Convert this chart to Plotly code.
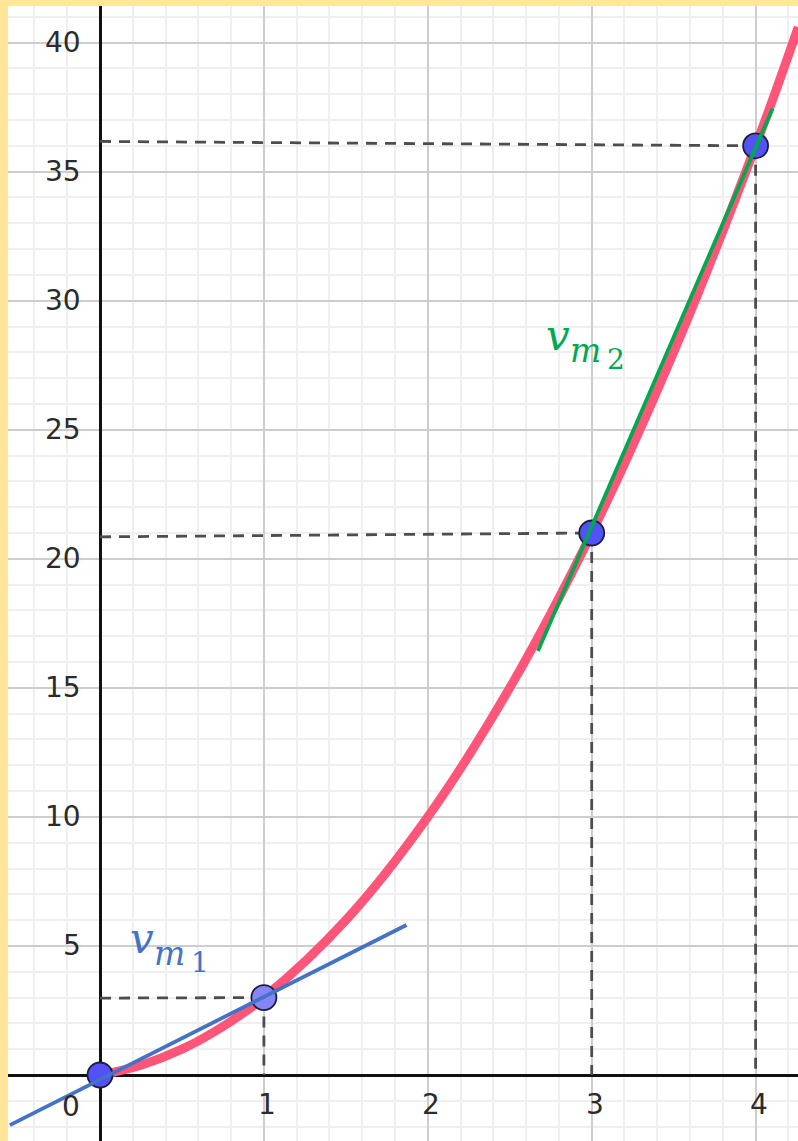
import plotly.graph_objects as go

# ---- data ----
curve_x = [0, 0.25, 0.5, 0.75, 1, 1.5, 2, 2.5, 3, 3.5, 4, 4.26]
curve_y = [0, 0.38, 1.0, 1.88, 3, 6, 10, 15, 21, 28, 36, 40.6]

pts_x = [0, 1, 3, 4]
pts_y = [0, 3, 21, 36]
pts_fill = ["#5252f7", "#8585f9", "#5252f7", "#5252f7"]

guide_left_y = [0, 2.98, 20.85, 36.17]   # left ends of the dashed guides (hand drawn, slightly tilted)

tan1_x = [-0.55, 1.87]
tan1_y = [-1.94, 5.81]
tan2_x = [2.672, 4.104]
tan2_y = [16.43, 37.45]

x_ticks = [1, 2, 3, 4]
y_ticks = [5, 10, 15, 20, 25, 30, 35, 40]

# ---- geometry ----
W, H = 798, 1141
ML, MT = 8, 6
PW, PH = W - ML, H - MT
xr = [-0.5613, 4.2587]
yr = [-2.557, 41.418]


def px2x(px):
    return xr[0] + (px - ML) / PW * (xr[1] - xr[0])


def px2y(py):
    return yr[1] - (py - MT) / PH * (yr[1] - yr[0])


fig = go.Figure()

# dashed guides
dash_style = dict(color="#4d4d4d", width=2.8, dash="11px,8px")
for i in range(1, len(pts_x)):
    fig.add_trace(go.Scatter(x=[0, pts_x[i]], y=[guide_left_y[i], pts_y[i]], mode="lines",
                             line=dash_style, hoverinfo="skip", showlegend=False))
    fig.add_trace(go.Scatter(x=[pts_x[i], pts_x[i]], y=[pts_y[i], 0], mode="lines",
                             line=dash_style, hoverinfo="skip", showlegend=False))

# curve
fig.add_trace(go.Scatter(x=curve_x, y=curve_y, mode="lines", line=dict(color="#ff5578", width=9, shape="spline"),
                         showlegend=False, hoverinfo="skip"))

# points
fig.add_trace(go.Scatter(x=pts_x, y=pts_y, mode="markers",
                         marker=dict(size=25, color=pts_fill, line=dict(color="#1e1e3c", width=1.8)),
                         showlegend=False))

# tangent / secant lines
fig.add_trace(go.Scatter(x=tan1_x, y=tan1_y, mode="lines", line=dict(color="#4472c4", width=3.8),
                         showlegend=False, hoverinfo="skip"))
fig.add_trace(go.Scatter(x=tan2_x, y=tan2_y, mode="lines", line=dict(color="#00a84f", width=3.8),
                         showlegend=False, hoverinfo="skip"))

ann = []
tick_font = dict(family="DejaVu Sans", size=28, color="#2b2b2b")
for v in y_ticks:
    ann.append(dict(x=0, y=v, xref="x", yref="y", text=str(v), showarrow=False,
                    xanchor="right", yanchor="middle", xshift=-17, font=tick_font))
for v in x_ticks:
    ann.append(dict(x=v, y=0, xref="x", yref="y", text=str(v), showarrow=False,
                    xanchor="center", yanchor="middle", xshift=3, yshift=-29, font=tick_font))
ann.append(dict(x=0, y=0, xref="x", yref="y", text="0", showarrow=False,
                xanchor="center", yanchor="middle", xshift=-29, yshift=-31, font=tick_font))


def label(px, py, color, sub):
    f = "DejaVu Serif"
    ann.append(dict(x=px2x(px), y=px2y(py), xref="x", yref="y", text="<i>v</i>", showarrow=False,
                    xanchor="left", yanchor="middle", font=dict(family=f, size=42, color=color)))
    ann.append(dict(x=px2x(px + 24), y=px2y(py + 15), xref="x", yref="y", text="<i>m</i>", showarrow=False,
                    xanchor="left", yanchor="middle", font=dict(family=f, size=33, color=color)))
    ann.append(dict(x=px2x(px + 61), y=px2y(py + 24), xref="x", yref="y", text=sub, showarrow=False,
                    xanchor="left", yanchor="middle", font=dict(family=f, size=28, color=color)))


label(128, 938, "#4472c4", "1")
label(544, 335, "#00a84f", "2")

fig.update_layout(
    width=W, height=H,
    margin=dict(l=ML, r=0, t=MT, b=0),
    paper_bgcolor="#ffe699", plot_bgcolor="#ffffff",
    annotations=ann,
    xaxis=dict(range=xr, dtick=1, tick0=0, showticklabels=False, ticks="",
               showgrid=True, gridcolor="#cdcdcd", gridwidth=2,
               zeroline=True, zerolinecolor="#111111", zerolinewidth=2.5,
               minor=dict(dtick=0.2, tick0=0, showgrid=True, gridcolor="#efefef", gridwidth=1.5),
               fixedrange=True),
    yaxis=dict(range=yr, dtick=5, tick0=0, showticklabels=False, ticks="",
               showgrid=True, gridcolor="#cdcdcd", gridwidth=2,
               zeroline=True, zerolinecolor="#111111", zerolinewidth=2.5,
               minor=dict(dtick=1, tick0=0, showgrid=True, gridcolor="#efefef", gridwidth=1.5),
               fixedrange=True),
)

fig.write_html("out.html", config={"displayModeBar": False},
               post_script="document.body.style.margin='0px';document.body.style.overflow='hidden';")
